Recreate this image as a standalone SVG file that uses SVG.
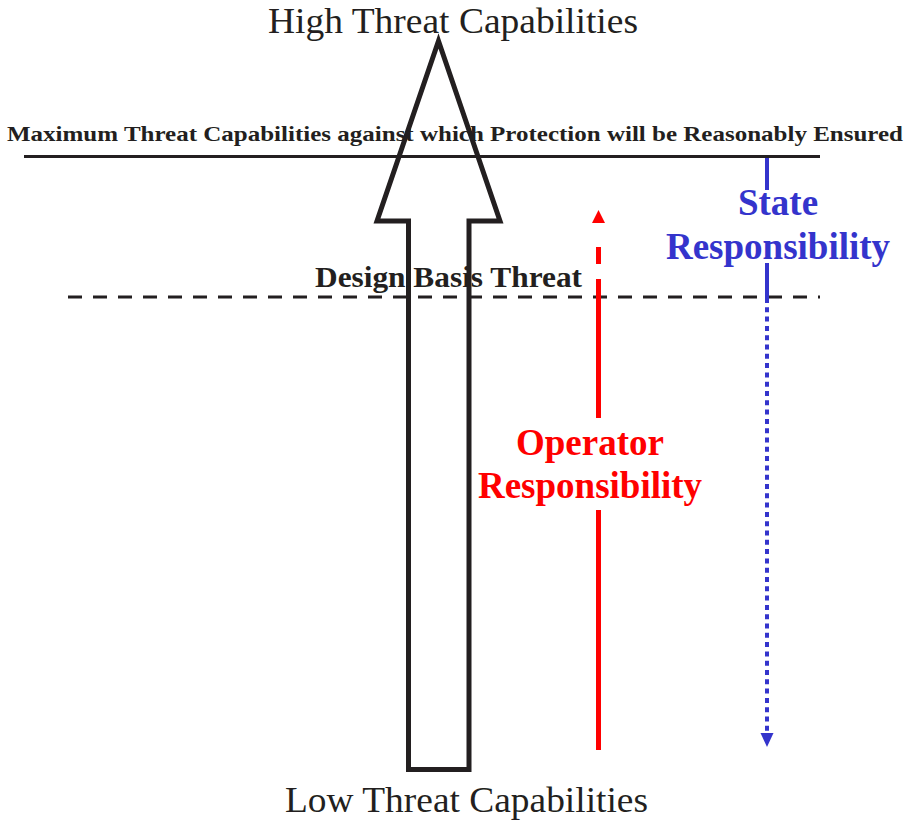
<svg xmlns="http://www.w3.org/2000/svg" width="912" height="827" viewBox="0 0 912 827">
<style>
.serif{font-family:"Liberation Serif","Times New Roman",serif;}
.b{font-weight:bold;}
.dark{fill:#231f20;}
.red{fill:#ff0000;}
.blue{fill:#3434cc;}
.line{stroke:#231f20;stroke-width:3;fill:none;}
</style>
<rect width="912" height="827" fill="#ffffff"/>
<g id="high-label"><text class="serif dark" x="453" y="33" font-size="35" text-anchor="middle" textLength="370" lengthAdjust="spacingAndGlyphs">High Threat Capabilities</text></g>
<g id="low-label"><text class="serif dark" x="466.5" y="812" font-size="36" text-anchor="middle" textLength="363" lengthAdjust="spacingAndGlyphs">Low Threat Capabilities</text></g>
<g id="max-line">
<text class="serif b dark" x="455" y="141" font-size="21" text-anchor="middle" textLength="896" lengthAdjust="spacingAndGlyphs">Maximum Threat Capabilities against which Protection will be Reasonably Ensured</text>
<line class="line" x1="24" y1="156.5" x2="820" y2="156.5"/>
</g>
<g id="dbt-line">
<text class="serif b dark" x="448.5" y="287" font-size="30" text-anchor="middle" textLength="267" lengthAdjust="spacingAndGlyphs">Design Basis Threat</text>
<line class="line" x1="68" y1="297" x2="820" y2="297" stroke-dasharray="14 11"/>
</g>
<g id="operator"><text class="serif b red" x="590" y="455" font-size="37" text-anchor="middle">Operator</text><text class="serif b red" x="590" y="498" font-size="37" text-anchor="middle">Responsibility</text></g>
<g id="state"><text class="serif b blue" x="778" y="215" font-size="37" text-anchor="middle">State</text><text class="serif b blue" x="778" y="259" font-size="37" text-anchor="middle">Responsibility</text></g>
<g id="threat-arrow"><polygon points="438.5,41 500,221 469,221 469,769.5 408.5,769.5 408.5,221 377,221" fill="none" stroke="#231f20" stroke-width="5" stroke-linejoin="miter"/></g>
<g id="connectors">
<g id="operator-arrow" stroke="#ff0000" stroke-width="5" fill="none">
<line x1="598.5" y1="750" x2="598.5" y2="510"/>
<line x1="598.5" y1="418" x2="598.5" y2="279"/>
<line x1="598.5" y1="264" x2="598.5" y2="247"/>
<polygon points="598.5,210 605,223 592,223" fill="#ff0000" stroke="none"/>
</g>
<g id="state-arrow" stroke="#3434cc" stroke-width="4" fill="none">
<line x1="767" y1="158" x2="767" y2="190"/>
<line x1="767" y1="263" x2="767" y2="298"/>
<line x1="767" y1="298" x2="767" y2="733" stroke-dasharray="5 4.3"/>
<polygon points="767,747 773.5,733 760.5,733" fill="#3434cc" stroke="none"/>
</g>
</g>
</svg>
